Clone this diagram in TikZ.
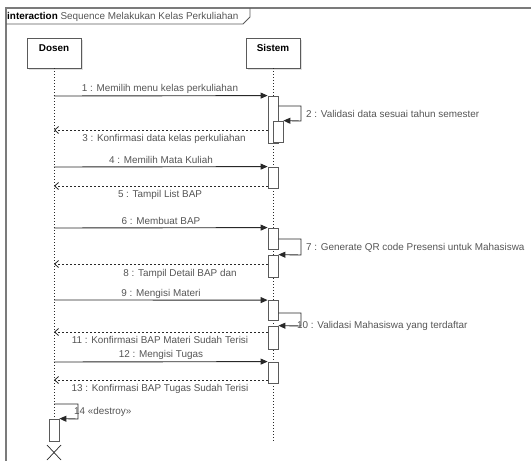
\documentclass[tikz,border=0pt]{standalone}
\usepackage{fontspec}
\setmainfont{Liberation Sans}
\usetikzlibrary{arrows.meta}
\definecolor{txt}{RGB}{85,85,85}
\definecolor{ln}{RGB}{40,40,40}
\definecolor{boxc}{RGB}{90,90,90}
\begin{document}
\begin{tikzpicture}[x=1pt,y=-1pt,
  every node/.style={font=\fontsize{9.9}{12}\selectfont, text=txt, inner sep=0pt},
  lifebox/.style={draw=boxc, fill=white, minimum width=54pt, minimum height=30pt, line width=0.8pt},
  act/.style={draw=boxc, fill=white, minimum width=10pt, line width=0.8pt},
  lifeline/.style={draw=ln, line width=0.8pt, dash pattern=on 1pt off 2pt},
  msg/.style={draw=ln, line width=0.9pt, -{Triangle[length=7pt,width=6pt]}},
  ret/.style={draw=ln, line width=0.8pt, dash pattern=on 2pt off 2pt, -{Straight Barb[length=4pt,width=7pt]}},
  lbl/.style={anchor=center},
  slbl/.style={anchor=west}]
\useasboundingbox (0,0) rectangle (531,461);
\clip (0,0) rectangle (531,461);
% frame
\draw[draw=boxc!80, line width=1.2pt] (6,470) -- (6,8) -- (540,8);
\draw[draw=boxc, line width=0.8pt] (6,24) -- (243,24) -- (250,17) -- (250,8);
\node[anchor=west, text=black] (title) at (7,16.5) {\textbf{interaction} \textcolor{txt}{Sequence Melakukan Kelas Perkuliahan}};
% lifeline heads
\fill[black!12] (29,40) rectangle (83,70);
\fill[black!12] (248,40) rectangle (302,70);
\node[lifebox] (dosen) at (54,53) {};
\node[lifebox] (sistem) at (273,53) {};
\node[text=black, font=\fontsize{9.9}{12}\selectfont\bfseries] (dosenlbl) at (54,48) {Dosen};
\node[text=black, font=\fontsize{9.9}{12}\selectfont\bfseries] (sistemlbl) at (273,48) {Sistem};
% lifelines
\coordinate (dend) at (54,419);
\coordinate (send) at (273,442);
\draw[lifeline] (dosen.south) -- (dend);
\draw[lifeline] (sistem.south) -- (send);
% activation boxes on Sistem
\node[act, minimum height=47pt] (a1) at (273,119.5) {};
\node[act, minimum height=21pt] (a2) at (278,131.5) {};
\node[act, minimum height=21pt] (a4) at (273,177.5) {};
\node[act, minimum height=21pt] (a6) at (273,238.5) {};
\node[act, minimum height=22pt] (a7) at (273,266) {};
\node[act, minimum height=20pt] (a9) at (273,310.5) {};
\node[act, minimum height=23pt] (a10) at (273,337.5) {};
\node[act, minimum height=21pt] (a12) at (273,372.5) {};
% Dosen activation
\node[act, minimum height=22pt] (ad) at (54,430) {};
% coordinates on Dosen lifeline
\coordinate (d1) at (54,96);
\coordinate (d3) at (54,130);
\coordinate (d4) at (54,167);
\coordinate (d5) at (54,186);
\coordinate (d6) at (54,228);
\coordinate (d8) at (54,264);
\coordinate (d9) at (54,300);
\coordinate (d11) at (54,332);
\coordinate (d12) at (54,362);
\coordinate (d13) at (54,380);
% messages
\draw[msg] (d1) -- (a1.north west);
\draw[msg] (a1.east |- 0,106) -- (301,106) -- (301,121) -- (a2.north east);
\draw[ret] (a1.west |- d3) -- (d3);
\draw[msg] (d4) -- (a4.north west);
\draw[ret] (a4.west |- d5) -- (d5);
\draw[msg] (d6) -- (a6.north west);
\draw[msg] (a6.east |- 0,239) -- (301,239) -- (301,255) -- (a7.north east);
\draw[ret] (a7.west |- d8) -- (d8);
\draw[msg] (d9) -- (a9.north west);
\draw[msg] (a9.east |- 0,313) -- (301,313) -- (301,326) -- (a10.north east);
\draw[ret] (a10.west |- d11) -- (d11);
\draw[msg] (d12) -- (a12.north west);
\draw[ret] (a12.west |- d13) -- (d13);
\draw[msg] (54,404) -- (78,404) -- (78,419) -- (ad.north east);
% destroy X
\node (xmark) at (54,452.5) {};
\draw[draw=ln, line width=0.7pt] (47,445) -- (61,460) (61,445) -- (47,460);
% labels
\node[lbl] (l1) at (160,89) {1 : Memilih menu kelas perkuliahan};
\node[slbl] (l2) at (306,114) {2 : Validasi data sesuai tahun semester};
\node[lbl] (l3) at (164,139) {3 : Konfirmasi data kelas perkuliahan};
\node[lbl] (l4) at (161,160) {4 : Memilih Mata Kuliah};
\node[lbl] (l5) at (160,195) {5 : Tampil List BAP};
\node[lbl] (l6) at (161,221) {6 : Membuat BAP};
\node[slbl] (l7) at (306,248) {7 : Generate QR code Presensi untuk Mahasiswa};
\node[lbl] (l8) at (180,274) {8 : Tampil Detail BAP dan};
\node[lbl] (l9) at (161,294) {9 : Mengisi Materi};
\node[slbl] (l10) at (297,326) {10 : Validasi Mahasiswa yang terdaftar};
\node[lbl] (l11) at (160,340) {11 : Konfirmasi BAP Materi Sudah Terisi};
\node[lbl] (l12) at (161,355) {12 : Mengisi Tugas};
\node[lbl] (l13) at (160,389) {13 : Konfirmasi BAP Tugas Sudah Terisi};
\node[slbl] (l14) at (74,412) {14 «destroy»};
\end{tikzpicture}
\end{document}
